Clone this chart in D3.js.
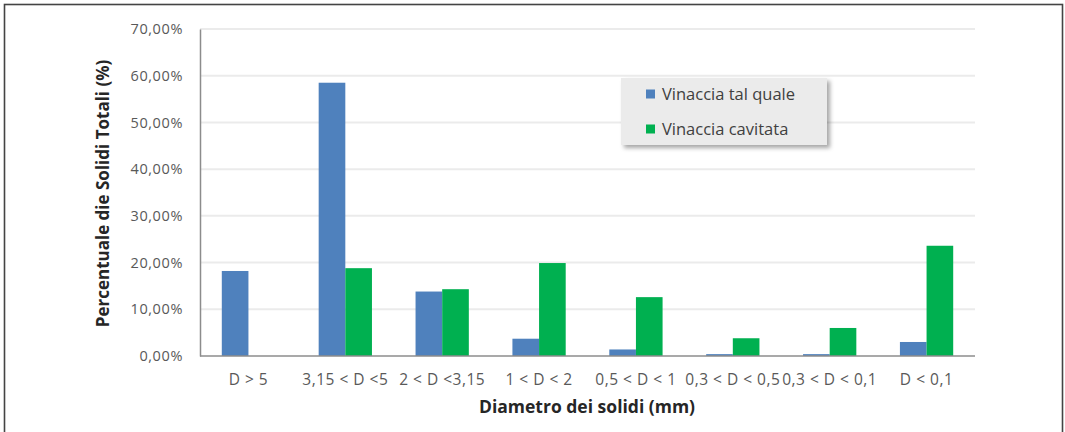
<!DOCTYPE html>
<html>
<head>
<meta charset="utf-8">
<script src="https://cdn.jsdelivr.net/npm/d3@7"></script>
<style>
  html, body { margin: 0; padding: 0; background: #fff; }
  svg { display: block; }
  text { font-family: "Open Sans", "Noto Sans", sans-serif; }
</style>
</head>
<body>
<svg id="chart" width="1065" height="432"></svg>
<script>
// Particle-size classes and share of total solids (%)
const categories = ["D > 5", "3,15 < D <5", "2 < D <3,15", "1 < D < 2", "0,5 < D < 1", "0,3 < D < 0,5", "0,3 < D < 0,1", "D < 0,1"];
const seriesNames = ["Vinaccia tal quale", "Vinaccia cavitata"];
const talQuale = [18.2, 58.5, 13.8, 3.7, 1.4, 0.4, 0.4, 3.0];
const cavitata = [0.0, 18.8, 14.3, 19.9, 12.6, 3.8, 6.0, 23.6];
const yTicks = [0, 10, 20, 30, 40, 50, 60, 70];
const colors = ["#4F81BD", "#00B050"];

const svg = d3.select("#chart");

// outer frame
svg.append("rect")
  .attr("x", 4.5).attr("y", 4.5)
  .attr("width", 1058).attr("height", 440)
  .attr("fill", "#fff").attr("stroke", "#444").attr("stroke-width", 1.6);

const plot = { left: 200, right: 975, top: 29, bottom: 356 };

const x0 = d3.scaleBand().domain(categories).range([plot.left, plot.right]).paddingInner(0.45).paddingOuter(0.225);
const x1 = d3.scaleBand().domain(seriesNames).range([0, x0.bandwidth()]);
const y = d3.scaleLinear().domain([0, 70]).range([plot.bottom, plot.top]);

const fmt = v => d3.format(".2f")(v).replace(".", ",") + "%";

// gridlines
svg.append("g").selectAll("line").data(yTicks.filter(t => t > 0)).join("line")
  .attr("x1", plot.left).attr("x2", plot.right)
  .attr("y1", d => y(d)).attr("y2", d => y(d))
  .attr("stroke", "#ebebeb").attr("stroke-width", 2);

// bars
const rows = categories.map((c, i) => ({ cat: c, vals: [talQuale[i], cavitata[i]] }));
const groups = svg.append("g").selectAll("g").data(rows).join("g")
  .attr("transform", d => `translate(${x0(d.cat)},0)`);
groups.selectAll("rect").data(d => d.vals.map((v, k) => ({ v, k }))).join("rect")
  .attr("x", d => x1(seriesNames[d.k]))
  .attr("width", x1.bandwidth())
  .attr("y", d => y(d.v))
  .attr("height", d => y(0) - y(d.v))
  .attr("fill", d => colors[d.k]);

// y axis
const yAxis = svg.append("g").attr("transform", `translate(${plot.left},0)`)
  .call(d3.axisLeft(y).tickValues(yTicks).tickFormat(fmt).tickSize(0).tickPadding(17));
yAxis.select(".domain").attr("stroke", "#8c8c8c").attr("stroke-width", 1.5);
yAxis.selectAll("text").attr("font-size", 14.5).attr("fill", "#595959").attr("letter-spacing", 0.6);

// x axis
const xAxis = svg.append("g").attr("transform", `translate(0,${plot.bottom})`)
  .call(d3.axisBottom(x0).tickSize(0).tickPadding(18));
xAxis.select(".domain").attr("d", `M${plot.left},0H${plot.right}`).attr("stroke", "#8c8c8c").attr("stroke-width", 1.5);
xAxis.selectAll("text").attr("font-size", 15.5).attr("fill", "#595959").attr("letter-spacing", 0.5);

// axis titles
svg.append("text")
  .attr("transform", `translate(109,${(plot.top + plot.bottom) / 2 + 1}) rotate(-90)`)
  .attr("text-anchor", "middle").attr("font-size", 17).attr("font-weight", "bold").attr("fill", "#262626")
  .text("Percentuale die Solidi Totali (%)");
svg.append("text")
  .attr("x", 587).attr("y", 413)
  .attr("text-anchor", "middle").attr("font-size", 17.5).attr("font-weight", "bold").attr("fill", "#262626")
  .text("Diametro dei solidi (mm)");

// legend
const leg = svg.append("g").attr("transform", "translate(621,78)");
const defs = svg.append("defs");
const f = defs.append("filter").attr("id", "shadow").attr("x", "-10%").attr("y", "-10%").attr("width", "130%").attr("height", "140%");
f.append("feDropShadow").attr("dx", 3).attr("dy", 3).attr("stdDeviation", 2).attr("flood-color", "#000").attr("flood-opacity", 0.35);
leg.append("rect").attr("width", 206).attr("height", 67).attr("fill", "#ebebeb").attr("filter", "url(#shadow)");
seriesNames.forEach((s, i) => {
  const g = leg.append("g").attr("transform", `translate(25,${16 + i * 35})`);
  g.append("rect").attr("x", 0).attr("y", -4.5).attr("width", 9).attr("height", 9).attr("fill", colors[i]);
  g.append("text").attr("x", 16).attr("y", 0).attr("dy", "0.35em")
    .attr("font-size", 16.5).attr("fill", "#404040").text(s);
});
</script>
</body>
</html>
